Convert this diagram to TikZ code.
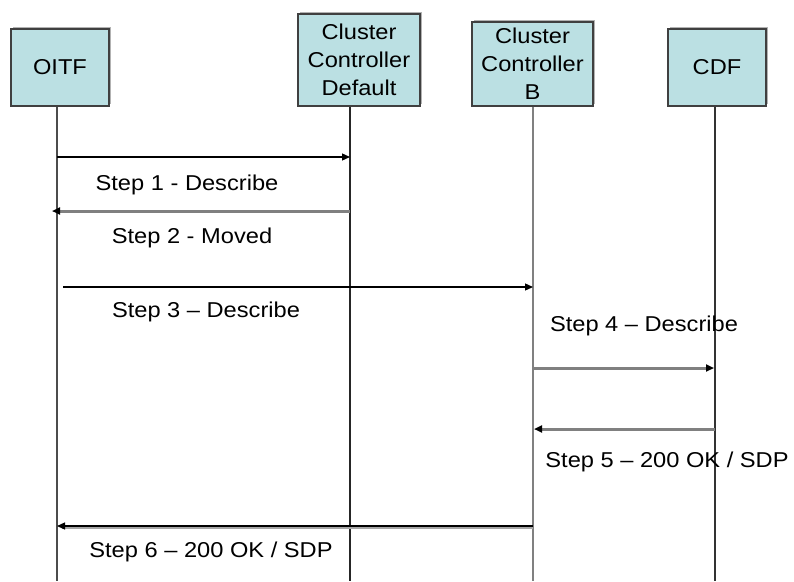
\documentclass[tikz,border=0pt]{standalone}
\usepackage{fontspec}
\setmainfont{Liberation Sans}[FakeStretch=1.1]
\usetikzlibrary{arrows.meta,shadows}
\definecolor{boxfill}{HTML}{BBE0E3}
\definecolor{msggray}{HTML}{808080}
\begin{document}
\begin{tikzpicture}[x=1pt,y=-1pt,
  actor/.style={draw=black!75, line width=1.3pt, fill=boxfill, inner sep=0pt, align=center,
    font=\fontsize{21.5}{28}\selectfont,
    drop shadow={shadow xshift=2pt, shadow yshift=2pt, fill=black!30, opacity=1}},
  life/.style={line width=1.8pt},
  lbl/.style={inner sep=0pt, font=\fontsize{21.5}{26}\selectfont},
  tip/.style={-{Triangle[length=8pt,width=7pt,color=black]}},
  thinmsg/.style={tip, line width=1.3pt, draw=black},
  graymsg/.style={tip, line width=3pt, draw=msggray},
]
\useasboundingbox (0,0) rectangle (794,581);
\fill[white] (0,0) rectangle (794,581);

% actors
\node[actor, minimum width=98pt, minimum height=77pt] (oitf) at (60,67.5) {OITF};
\node[actor, minimum width=122pt, minimum height=92pt] (ccd) at (359,60) {Cluster\\Controller\\Default};
\node[actor, minimum width=121pt, minimum height=84pt] (ccb) at (532.5,64) {Cluster\\Controller\\B};
\node[actor, minimum width=98pt, minimum height=77pt] (cdf) at (717,67.5) {CDF};

% lifeline end points
\coordinate (o0) at (57,106.6);  \coordinate (o1) at (57,581);
\coordinate (d0) at (350,106.6); \coordinate (d1) at (350,581);
\coordinate (b0) at (533,106.6); \coordinate (b1) at (533,581);
\coordinate (c0) at (715,106.6); \coordinate (c1) at (715,581);
\draw[life, draw=black!70] (o0) -- (o1);
\draw[life, draw=black!85] (d0) -- (d1);
\draw[life, draw=black!50] (b0) -- (b1);
\draw[life, draw=black!80] (c0) -- (c1);

% message end points
\coordinate (m1a) at (57,157);  \coordinate (m1b) at (350,157);
\coordinate (m2a) at (350,211); \coordinate (m2b) at (52,211);
\coordinate (m3a) at (63,287);  \coordinate (m3b) at (533,287);
\coordinate (m4a) at (533,368); \coordinate (m4b) at (714,368);
\coordinate (m5a) at (715,429); \coordinate (m5b) at (534,429);
\coordinate (m6a) at (533,526); \coordinate (m6b) at (57,526);
\coordinate (m6c) at (533,527.5); \coordinate (m6d) at (62,527.5);

\draw[thinmsg] (m1a) -- (m1b);
\draw[graymsg] (m2a) -- (m2b);
\draw[thinmsg] (m3a) -- (m3b);
\draw[graymsg] (m4a) -- (m4b);
\draw[graymsg] (m5a) -- (m5b);
\draw[line width=2pt, draw=black!35] (m6c) -- (m6d);
\draw[thinmsg] (m6a) -- (m6b);

% labels
\node[lbl] (t1) at (187,185) {Step 1 - Describe};
\node[lbl] (t2) at (192,238) {Step 2 - Moved};
\node[lbl] (t3) at (206,312) {Step 3 -- Describe};
\node[lbl] (t4) at (644,326) {Step 4 -- Describe};
\node[lbl] (t5) at (667,462) {Step 5 -- 200 OK / SDP};
\node[lbl] (t6) at (211,552) {Step 6 -- 200 OK / SDP};
\end{tikzpicture}
\end{document}
